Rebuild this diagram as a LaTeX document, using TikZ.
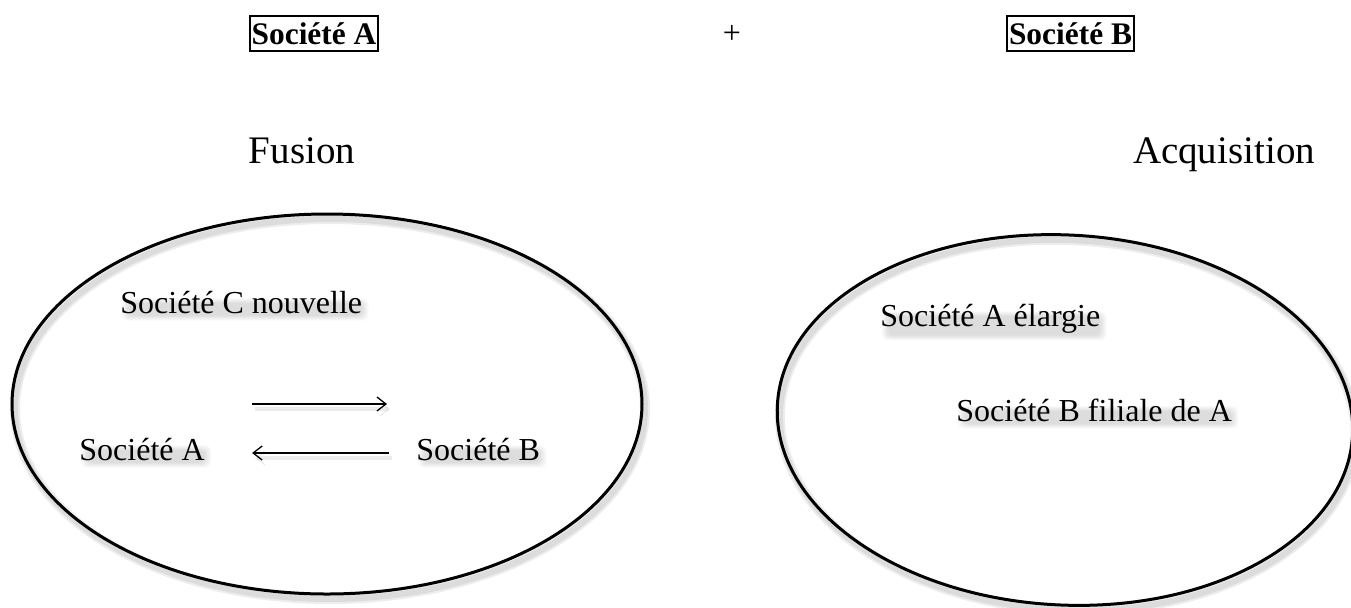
\documentclass[tikz,border=0pt]{standalone}
\usepackage{fontspec}
\setmainfont{Liberation Serif}
\usetikzlibrary{arrows.meta,calc,backgrounds}

% soft grey smudge under a text node, drawn on the background layer
\newcommand\softshade[1]{%
  \begin{scope}[on background layer]
    \foreach \k in {0,...,5}{%
      \fill[black,fill opacity=0.025,rounded corners=3pt]
        ($(#1.north west)+(2+\k*1.3,8+\k*1.0)$) rectangle
        ($(#1.south east)+(6-\k*1.3,7-\k*1.0)$);}
  \end{scope}}

\begin{document}
\begin{tikzpicture}[x=0.5pt,y=-0.5pt,
  titlebox/.style={draw,line width=1pt,inner xsep=1pt,inner ysep=3.4pt,
    font=\fontsize{15.7}{18}\selectfont\bfseries},
  heading/.style={inner sep=0pt,anchor=base,font=\fontsize{19.5}{23}\selectfont},
  body/.style={inner sep=0pt,anchor=base west,font=\fontsize{16}{19}\selectfont},
  ring/.style={line width=1.5pt},
  ringshade/.style={draw=black,line width=#1,draw opacity=0.07},
  flow/.style={line width=0.65pt,-{Straight Barb[length=4.5pt,width=7pt,line width=0.65pt]}},
  flowshade/.style={flow,draw opacity=0.08,line width=2pt}
]
\useasboundingbox (0,0) rectangle (1351,607);

% top row
\node[titlebox] (boxA) at (314,33.5) {Société A};
\node[inner sep=0pt,font=\fontsize{16}{19}\selectfont] (plus) at (732,34) {+};
\node[titlebox] (boxB) at (1070.5,33.5) {Société B};

% headings
\node[heading] (fusion) at (302,163) {Fusion};
\node[heading] (acq) at (1224,163) {Acquisition};

% merger ellipse
\begin{scope}[on background layer]
  \foreach \w in {3pt,5pt}
    \draw[ringshade=\w] (330,409) ellipse [x radius=315, y radius=190];
\end{scope}
\draw[ring] (327,404) ellipse [x radius=315, y radius=190];

\node[body] (sC) at (120,313) {Société C nouvelle};
\node[body] (sA) at (79,460) {Société A};
\node[body] (sB) at (416,460) {Société B};
\softshade{sC}\softshade{sA}\softshade{sB}

\coordinate (t1) at ($(sA.base east)+(47,-56)$);
\coordinate (t2) at ($(sB.base west)+(-29,-56)$);
\coordinate (b1) at ($(sB.base west)+(-27,-7)$);
\coordinate (b2) at ($(sA.base east)+(47,-7)$);
\begin{scope}[on background layer]
  \draw[flowshade] ($(t1)+(3,5)$) -- ($(t2)+(3,5)$);
  \draw[flowshade] ($(b1)+(3,5)$) -- ($(b2)+(3,5)$);
\end{scope}
\draw[flow] (t1) -- (t2);
\draw[flow] (b1) -- (b2);

% acquisition ellipse
\begin{scope}[on background layer]
  \foreach \w in {3pt,5pt}
    \draw[ringshade=\w,rotate around={-3:(1065,420)}] (1068,425) ellipse [x radius=288, y radius=185];
\end{scope}
\draw[ring,rotate around={-3:(1065,420)}] (1065,420) ellipse [x radius=288, y radius=185];

\node[body] (sAe) at (880,326) {Société A élargie};
\node[body] (sBf) at (956,421) {Société B filiale de A};
\softshade{sAe}\softshade{sBf}
\end{tikzpicture}
\end{document}
